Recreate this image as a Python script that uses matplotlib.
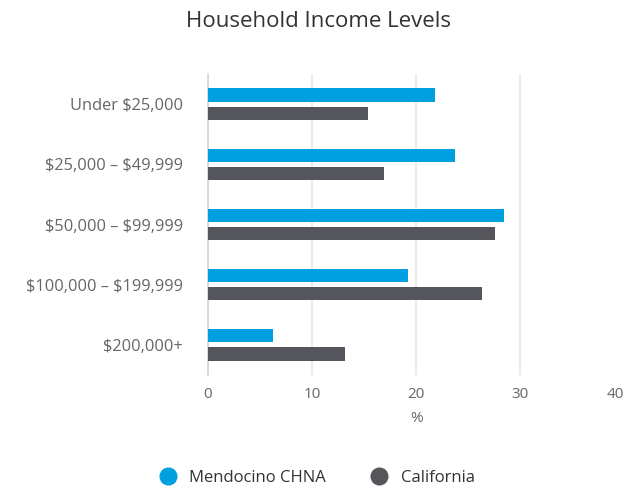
import numpy as np
import matplotlib.pyplot as plt
from matplotlib.lines import Line2D

plt.rcParams['font.family'] = ['Open Sans', 'DejaVu Sans']

categories = ['Under \\$25,000', '\\$25,000 – \\$49,999', '\\$50,000 – \\$99,999',
              '\\$100,000 – \\$199,999', '\\$200,000+']
mendocino = [21.8, 23.7, 28.4, 19.2, 6.2]
california = [15.4, 16.9, 27.6, 26.3, 13.2]
series_names = ['Mendocino CHNA', 'California']
colors = ['#009fdf', '#55565b']

fig = plt.figure(figsize=(6.26, 4.87), dpi=100)
ax = fig.add_axes([0.3323, 0.23, 0.665, 0.618])

y = np.arange(len(categories))
h = 0.22
ax.barh(y - 0.15, mendocino, height=h, color=colors[0], zorder=3)
ax.barh(y + 0.15, california, height=h, color=colors[1], zorder=3)

ax.set_ylim(len(categories) - 0.5, -0.5)
ax.set_xlim(0, 40)
ax.set_xticks([0, 10, 20, 30, 40])
ax.set_yticks(y)
ax.set_yticklabels(categories)
ax.tick_params(axis='both', length=0, labelsize=11, labelcolor='#666666')
ax.tick_params(axis='y', labelsize=11.8, pad=18)
ax.tick_params(axis='x', pad=9)
ax.get_xticklabels()[-1].set_horizontalalignment('right')
ax.grid(axis='x', color='#e6e6e6', linewidth=1.2, zorder=0)
ax.get_xgridlines()[-1].set_visible(False)
for s in ['top', 'right', 'bottom']:
    ax.spines[s].set_visible(False)
ax.spines['left'].set_color('#ccd6eb')
ax.spines['left'].set_linewidth(1.2)
ax.set_xlabel('%', fontsize=11, color='#666666', labelpad=6)

fig.text(0.508, 0.955, 'Household Income Levels', ha='center', va='center',
         fontsize=16, color='#333333')

handles = [Line2D([], [], marker='o', linestyle='', markersize=12, color=c)
           for c in colors]
fig.legend(handles, series_names, loc='center', bbox_to_anchor=(0.5, 0.018),
           ncol=2, frameon=False, fontsize=12, labelcolor='#333333',
           handletextpad=0.3, columnspacing=2.2)

plt.savefig('out.png')
